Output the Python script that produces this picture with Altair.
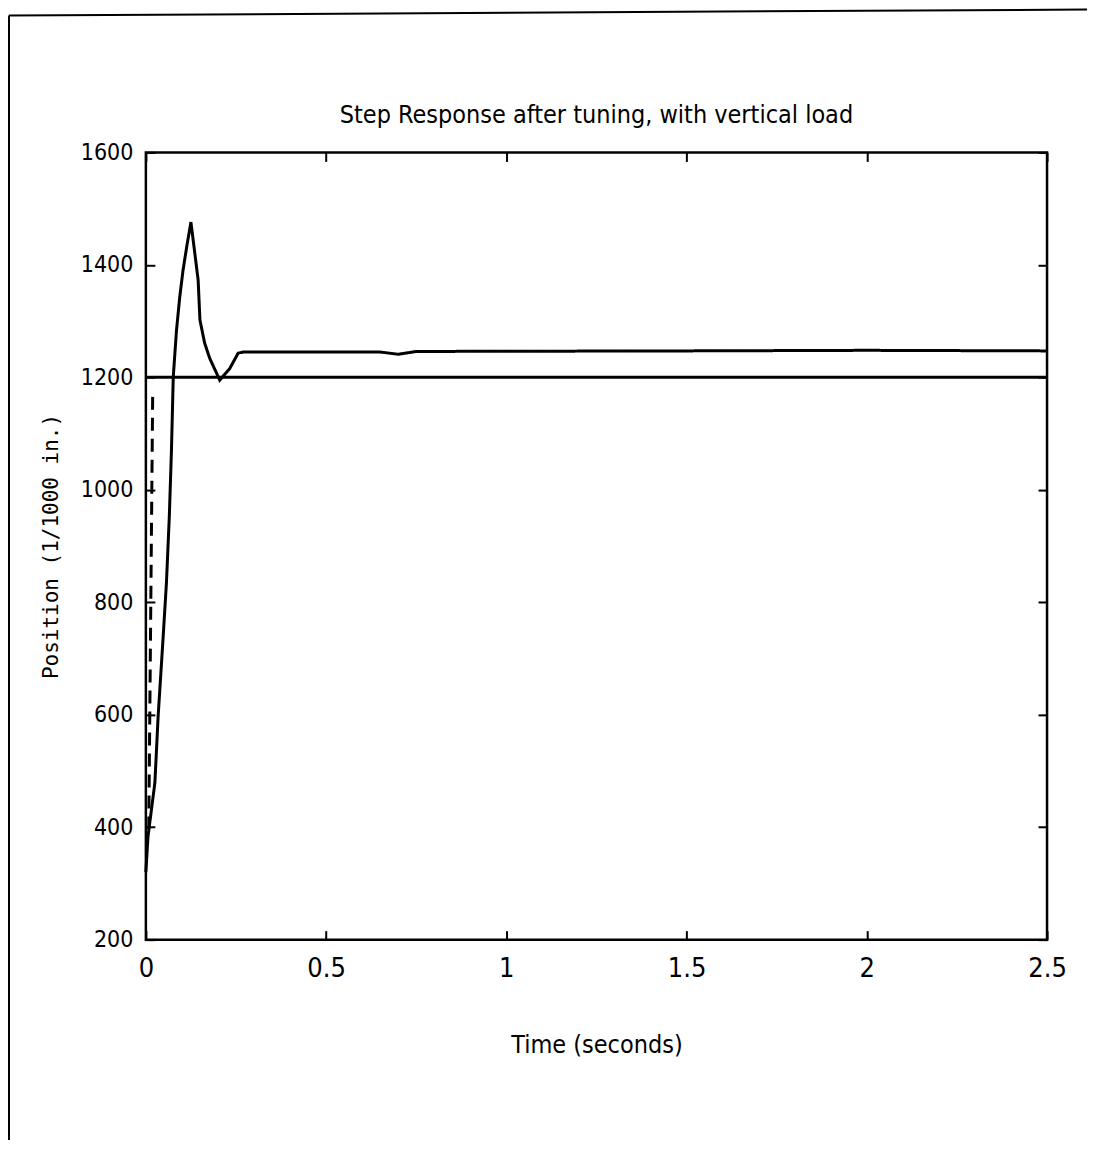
import altair as alt
import pandas as pd

# Response curve
resp_t = [0.0, 0.006, 0.013, 0.025, 0.034, 0.048, 0.057, 0.065, 0.071, 0.076,
          0.085, 0.094, 0.103, 0.114, 0.125, 0.145, 0.150, 0.163, 0.177, 0.205,
          0.233, 0.256, 0.27, 0.65, 0.70, 0.75, 1.5, 2.0, 2.5]
resp_v = [320, 384, 419, 479, 597, 739, 834, 952, 1071, 1201,
          1284, 1343, 1390, 1435, 1476, 1373, 1302, 1261, 1234, 1195,
          1216, 1243, 1245, 1245, 1241, 1246, 1247, 1248, 1247]
# Reference level
ref_t = [0.0, 2.5]
ref_v = [1200, 1200]
# Commanded step (dashed)
cmd_t = [0.008, 0.019]
cmd_v = [396, 1177]

x_ticks = [0, 0.5, 1, 1.5, 2, 2.5]
y_ticks = [200, 400, 600, 800, 1000, 1200, 1400, 1600]

title_text = "Step Response after tuning, with vertical load"
x_title = "Time (seconds)"
y_title = "Position (1/1000 in.)"

rows = []
for t, v in zip(resp_t, resp_v):
    rows.append({"t": t, "v": v, "series": "response"})
for t, v in zip(ref_t, ref_v):
    rows.append({"t": t, "v": v, "series": "reference"})
for t, v in zip(cmd_t, cmd_v):
    rows.append({"t": t, "v": v, "series": "command"})
df = pd.DataFrame(rows)

NARROW = "Liberation Sans Narrow, DejaVu Sans Condensed, Liberation Sans, sans-serif"
TICK = 9

xscale = alt.Scale(domain=[0, 2.5], nice=False, zero=False)
yscale = alt.Scale(domain=[200, 1600], nice=False, zero=False)

lines = alt.Chart(df).mark_line(color="black", strokeWidth=3).encode(
    x=alt.X("t:Q", scale=xscale, axis=alt.Axis(
        orient="bottom", values=x_ticks, format="~g", offset=-TICK, tickSize=TICK,
        domain=False, grid=False, tickColor="black", tickWidth=2, labelFlush=False,
        labelFont=NARROW, labelFontSize=27, labelColor="black", labelPadding=16,
        title=x_title, titleFont=NARROW, titleFontSize=25,
        titleFontWeight="normal", titleColor="black",
        titleX=451, titleY=122, titleAlign="center", titleBaseline="alphabetic")),
    y=alt.Y("v:Q", scale=yscale, axis=alt.Axis(
        orient="left", values=y_ticks, format="d", offset=-TICK, tickSize=TICK,
        domain=False, grid=False, tickColor="black", tickWidth=2, labelFlush=False,
        labelFont=NARROW, labelFontSize=23, labelColor="black", labelPadding=13,
        title=y_title, titleFont="DejaVu Sans Mono", titleFontSize=21,
        titleFontWeight="normal", titleColor="black", titleAngle=-90,
        titleX=-97, titleY=394, titleAlign="center", titleBaseline="alphabetic")),
    detail="series:N",
    strokeDash=alt.StrokeDash("series:N", scale=alt.Scale(
        domain=["response", "reference", "command"],
        range=[[1, 0], [1, 0], [13, 8]]), legend=None),
)

mirror = alt.Chart(df).mark_line(strokeOpacity=0).encode(
    x=alt.X("t:Q", scale=xscale, axis=alt.Axis(
        orient="top", values=x_ticks, offset=-TICK, tickSize=TICK, labels=False,
        domain=False, grid=False, tickColor="black", tickWidth=2, title=None)),
    y=alt.Y("v:Q", scale=yscale, axis=alt.Axis(
        orient="right", values=y_ticks, offset=-TICK, tickSize=TICK, labels=False,
        domain=False, grid=False, tickColor="black", tickWidth=2, title=None)),
    detail="series:N",
)

dummy = pd.DataFrame({"k": [0]})
title_mark = alt.Chart(dummy).mark_text(
    text=title_text, font=NARROW, fontSize=25, color="black",
    align="center", baseline="alphabetic").encode(
    x=alt.value(451), y=alt.value(-29))
border_left = alt.Chart(dummy).mark_rule(color="black", strokeWidth=2).encode(
    x=alt.value(-137), x2=alt.value(-137), y=alt.value(-137), y2=alt.value(1010))
border_top = alt.Chart(dummy).mark_rule(color="black", strokeWidth=2).encode(
    x=alt.value(-137), x2=alt.value(950), y=alt.value(-137), y2=alt.value(-143))

chart = alt.layer(lines, mirror, title_mark, border_left, border_top).properties(
    width=902, height=788,
    background="white",
    autosize=alt.AutoSizeParams(type="none"),
    padding={"left": 138, "top": 144, "right": 40, "bottom": 200},
).configure_view(stroke="black", strokeWidth=2.5)

chart.save("out.html", embed_options={"renderer": "svg", "actions": False})
